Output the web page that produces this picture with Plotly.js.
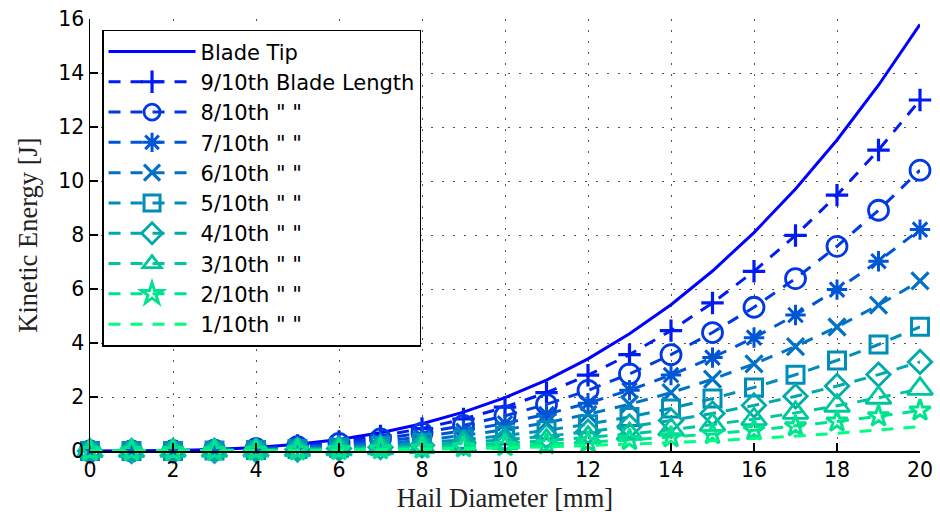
<!DOCTYPE html>
<html>
<head>
<meta charset="utf-8">
<script src="https://cdn.plot.ly/plotly-3.0.1.min.js"></script>
<style>
  html, body { margin: 0; padding: 0; background: #ffffff; }
  #chart { width: 940px; height: 517px; }
</style>
</head>
<body>
<div id="chart"></div>
<script>
// Hail diameter in mm
const diameter = [0, 1, 2, 3, 4, 5, 6, 7, 8, 9, 10, 11, 12, 13, 14, 15, 16, 17, 18, 19, 20];

// Kinetic energy in J at each radial station of the blade
const bladeTip = [0, 0.002, 0.016, 0.053, 0.126, 0.247, 0.427, 0.677, 1.011, 1.440, 1.975, 2.629, 3.413, 4.339, 5.419, 6.666, 8.090, 9.703, 11.518, 13.547, 15.8];
const r90 = [0, 0.0016, 0.013, 0.044, 0.104, 0.203, 0.351, 0.557, 0.832, 1.185, 1.625, 2.163, 2.808, 3.570, 4.459, 5.484, 6.656, 7.984, 9.477, 11.146, 13.0];
const r80 = [0, 0.0013, 0.0104, 0.0351, 0.0832, 0.1625, 0.2808, 0.4459, 0.6656, 0.9477, 1.3, 1.7303, 2.2464, 2.8561, 3.5672, 4.3875, 5.3248, 6.3869, 7.5816, 8.9167, 10.4];
const r70 = [0, 0.001, 0.0082, 0.0277, 0.0656, 0.1281, 0.2214, 0.3516, 0.5248, 0.7472, 1.025, 1.3643, 1.7712, 2.2519, 2.8126, 3.4594, 4.1984, 5.0358, 5.9778, 7.0305, 8.2];
const r60 = [0, 0.0008, 0.0063, 0.0213, 0.0504, 0.0984, 0.1701, 0.2701, 0.4032, 0.5741, 0.7875, 1.0482, 1.3608, 1.7301, 2.1609, 2.6578, 3.2256, 3.8690, 4.5927, 5.4015, 6.3];
const r50 = [0, 0.0006, 0.0046, 0.0155, 0.0368, 0.0719, 0.1242, 0.1972, 0.2944, 0.4192, 0.575, 0.7653, 0.9936, 1.2633, 1.5778, 1.9406, 2.3552, 2.8250, 3.3534, 3.9439, 4.6];
const r40 = [0, 0.0004, 0.0033, 0.0111, 0.0264, 0.0516, 0.0891, 0.1415, 0.2112, 0.3007, 0.4125, 0.5490, 0.7128, 0.9063, 1.1319, 1.3922, 1.6896, 2.0266, 2.4057, 2.8293, 3.3];
const r30 = [0, 0.0003, 0.0023, 0.0078, 0.0184, 0.0359, 0.0621, 0.0986, 0.1472, 0.2096, 0.2875, 0.3827, 0.4968, 0.6316, 0.7889, 0.9703, 1.1776, 1.4125, 1.6767, 1.9720, 2.3];
const r20 = [0, 0.0002, 0.0015, 0.0051, 0.012, 0.0234, 0.0405, 0.0643, 0.096, 0.1367, 0.1875, 0.2496, 0.324, 0.4119, 0.5145, 0.6328, 0.768, 0.9212, 1.0935, 1.2861, 1.5];
const r10 = [0, 0.0001, 0.0009, 0.003, 0.0072, 0.0141, 0.0243, 0.0386, 0.0576, 0.082, 0.1125, 0.1497, 0.1944, 0.2472, 0.3087, 0.3797, 0.4608, 0.5527, 0.6561, 0.7716, 0.9];

const seriesNames = ['Blade Tip', '9/10th Blade Length', '8/10th " "', '7/10th " "', '6/10th " "',
                     '5/10th " "', '4/10th " "', '3/10th " "', '2/10th " "', '1/10th " "'];
const seriesValues = [bladeTip, r90, r80, r70, r60, r50, r40, r30, r20, r10];

// "winter" colour ramp, blue at the tip to spring green at the hub
const seriesColors = ['rgb(0,0,255)', 'rgb(0,28,241)', 'rgb(0,57,227)', 'rgb(0,85,213)', 'rgb(0,113,198)',
                      'rgb(0,142,184)', 'rgb(0,170,170)', 'rgb(0,198,156)', 'rgb(0,227,142)', 'rgb(0,255,128)'];
const seriesSymbols = [null, 'cross-thin-open', 'circle-open', 'asterisk-open', 'x-thin-open',
                       'square-open', 'diamond-open', 'triangle-up-open', 'star-open', null];
const symbolSizes = [0, 16, 20, 17, 17, 17, 18, 22, 16, 0];
const symbolWidths = [0, 3.2, 2.8, 3, 3.2, 3, 2.8, 2.8, 3, 0];

const traces = seriesValues.map((vals, i) => {
  const t = {
    type: 'scatter',
    x: diameter,
    y: vals,
    name: seriesNames[i],
    cliponaxis: false,
    line: { color: seriesColors[i], width: 3, dash: i === 0 ? 'solid' : '12px,10px' },
    mode: seriesSymbols[i] ? 'lines+markers' : 'lines'
  };
  if (seriesSymbols[i]) {
    t.marker = {
      symbol: seriesSymbols[i],
      size: symbolSizes[i],
      color: seriesColors[i],
      line: { color: seriesColors[i], width: symbolWidths[i] }
    };
  }
  return t;
});

const tickFont = { family: 'DejaVu Sans, Liberation Sans, sans-serif', size: 20.5, color: '#000' };
const titleFont = { family: 'Liberation Serif, Times New Roman, serif', size: 26.5, color: '#222' };

const layout = {
  width: 940,
  height: 517,
  paper_bgcolor: '#ffffff',
  plot_bgcolor: '#ffffff',
  margin: { l: 90, r: 20, t: 19, b: 66 },
  showlegend: true,
  legend: {
    x: 0.0145, y: 0.975, xanchor: 'left', yanchor: 'top',
    bgcolor: '#ffffff', bordercolor: '#000', borderwidth: 1.5,
    font: { family: 'DejaVu Sans, Liberation Sans, sans-serif', size: 21, color: '#000' },
    itemwidth: 87,
    tracegroupgap: 0
  },
  xaxis: {
    range: [0, 20],
    dtick: 2,
    tick0: 0,
    showline: true, linecolor: '#000', linewidth: 1.5,
    ticks: 'inside', ticklen: 8, tickwidth: 1.5, tickcolor: '#000',
    showgrid: true, gridcolor: '#555', gridwidth: 1, griddash: '2px,9px',
    zeroline: false,
    tickfont: tickFont,
    title: { text: 'Hail Diameter [mm]', font: titleFont, standoff: 7 }
  },
  yaxis: {
    range: [0, 16],
    dtick: 2,
    tick0: 0,
    showline: true, linecolor: '#000', linewidth: 1.5,
    ticks: 'inside', ticklen: 8, tickwidth: 1.5, tickcolor: '#000',
    showgrid: true, gridcolor: '#555', gridwidth: 1, griddash: '2px,9px',
    zeroline: false,
    tickfont: tickFont,
    title: { text: 'Kinetic Energy [J]', font: titleFont, standoff: 13 }
  }
};

Plotly.newPlot('chart', traces, layout, { displayModeBar: false, staticPlot: true });
</script>
</body>
</html>
